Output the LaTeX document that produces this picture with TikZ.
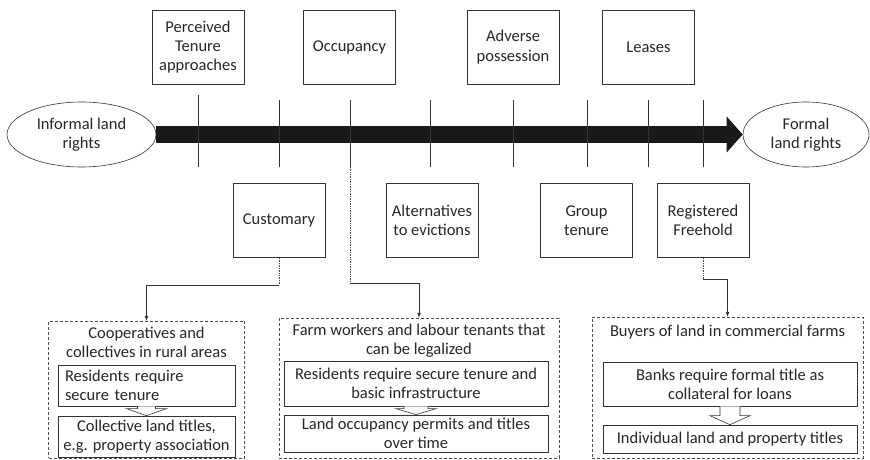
\documentclass[tikz,border=0pt]{standalone}
\usepackage{fontspec}
\setmainfont{Carlito}
\usetikzlibrary{arrows.meta,shapes.geometric,calc}
\newcommand\hdarr[5]{%
  \draw[hol] ($(#1)+(-#3,0)$) -- ($(#2)+(-#3,-#5)$) -- ($(#2)+(-#4,-#5)$) -- (#2)
    -- ($(#2)+(#4,-#5)$) -- ($(#2)+(#3,-#5)$) -- ($(#1)+(#3,0)$);}
\begin{document}
\begin{tikzpicture}[x=1pt,y=-1pt,
  every node/.style={font=\fontsize{16.5}{19.3}\selectfont, text=black!85},
  tbox/.style={draw=black!80, line width=0.7pt, minimum width=92pt, minimum height=74pt, align=center, inner sep=0pt},
  ell/.style={draw=black!80, ellipse, line width=0.6pt, inner sep=0pt, align=center},
  tickln/.style={draw=black!80, line width=0.7pt},
  dbox/.style={draw=black!70, densely dashed, line width=0.5pt, inner sep=0pt},
  ibox/.style={draw=black!80, line width=0.7pt, inner sep=0pt, align=center},
  conn/.style={draw=black!80, line width=0.6pt},
  dotc/.style={draw=black!70, densely dotted, line width=0.7pt},
  tipa/.style={-{Latex[length=5pt,width=4pt]}},
  hol/.style={draw=black!80, line width=0.6pt, fill=white}
]
\useasboundingbox (0,0) rectangle (870,460);

% ellipses
\node[ell, minimum width=149pt, minimum height=65pt] (inf) at (81.5,134.5) {Informal land\\rights};
\node[ell, minimum width=126pt, minimum height=65pt] (frm) at (806,134.5) {Formal\\land rights};

% main arrow
\draw[black!90, line width=17pt, -{Triangle[length=16pt,width=35pt]}] (inf.east) -- (frm.west);

% ticks
\draw[tickln] (198,95) -- (198,167);
\draw[tickln] (279,100) -- (279,167);
\draw[tickln] (350,100) -- (350,167) coordinate (t3b);
\draw[tickln] (430,100) -- (430,167);
\draw[tickln] (513,100) -- (513,167);
\draw[tickln] (587,100) -- (587,167);
\draw[tickln] (648,100) -- (648,167);
\draw[tickln] (703,100) -- (703,167);

% top boxes
\node[tbox] (ptb) at (198,47) {Perceived\\Tenure\\approaches};
\node[tbox] (occ) at (349.5,47) {Occupancy};
\node[tbox] (adv) at (513,47) {Adverse\\possession};
\node[tbox] (lea) at (648.5,47) {Leases};

% bottom boxes
\node[tbox] (cus) at (279,220.5) {Customary};
\node[tbox] (alt) at (432,220.5) {Alternatives\\to evictions};
\node[tbox] (grp) at (586.5,220.5) {Group\\tenure};
\node[tbox] (reg) at (703,220.5) {Registered\\Freehold};

% dashed group boxes
\node[dbox, minimum width=196pt, minimum height=137pt] (lbox) at (146.5,389.5) {};
\node[dbox, minimum width=280pt, minimum height=140pt] (mbox) at (419,388) {};
\node[dbox, minimum width=271pt, minimum height=141pt] (rbox) at (727.5,387.5) {};

% connectors
\coordinate (c1) at (279,285);
\coordinate (c2) at (350,283);
\coordinate (c3) at (703,279);
\draw[dotc] (cus.south) -- (c1);
\draw[conn, tipa] (c1) -- (c1 -| lbox.north) -- (lbox.north);
\draw[dotc] (t3b) -- (c2);
\draw[conn, tipa] (c2) -- (c2 -| mbox.north) -- (mbox.north);
\draw[dotc] (reg.south) -- (c3);
\draw[conn, tipa] (c3) -- (c3 -| rbox.north) -- (rbox.north);

% left group
\node[align=center, inner sep=0pt] (ltit) at (146.5,342.5) {Cooperatives and\\collectives in rural areas};
\node[ibox, align=left, text width=163pt, inner xsep=7pt, minimum height=41pt] (l1) at (146.5,385.5) {Residents require\\secure tenure};
\node[ibox, minimum width=177pt, minimum height=41pt] (l2) at (146.5,436.5) {Collective land titles,\\e.g. property association};
\hdarr{l1.south}{l2.north}{9}{20}{7}

% middle group
\node[align=center, inner sep=0pt] (mtit) at (419,341) {Farm workers and labour tenants that\\can be legalized};
\node[ibox, minimum width=264pt, minimum height=45pt] (m1) at (416,383.5) {Residents require secure tenure and\\basic infrastructure};
\node[ibox, minimum width=264pt, minimum height=37pt] (m2) at (416,433.5) {Land occupancy permits and titles\\over time};
\hdarr{m1.south}{m2.north}{12}{20}{6}

% right group
\node[inner sep=0pt] (rtit) at (727.5,332) {Buyers of land in commercial farms};
\node[ibox, minimum width=254pt, minimum height=44pt] (r1) at (730,384) {Banks require formal title as\\collateral for loans};
\node[ibox, minimum width=254pt, minimum height=28pt] (r2) at (730,439) {Individual land and property titles};
\hdarr{r1.south}{r2.north}{10}{20}{9}
\end{tikzpicture}
\end{document}
